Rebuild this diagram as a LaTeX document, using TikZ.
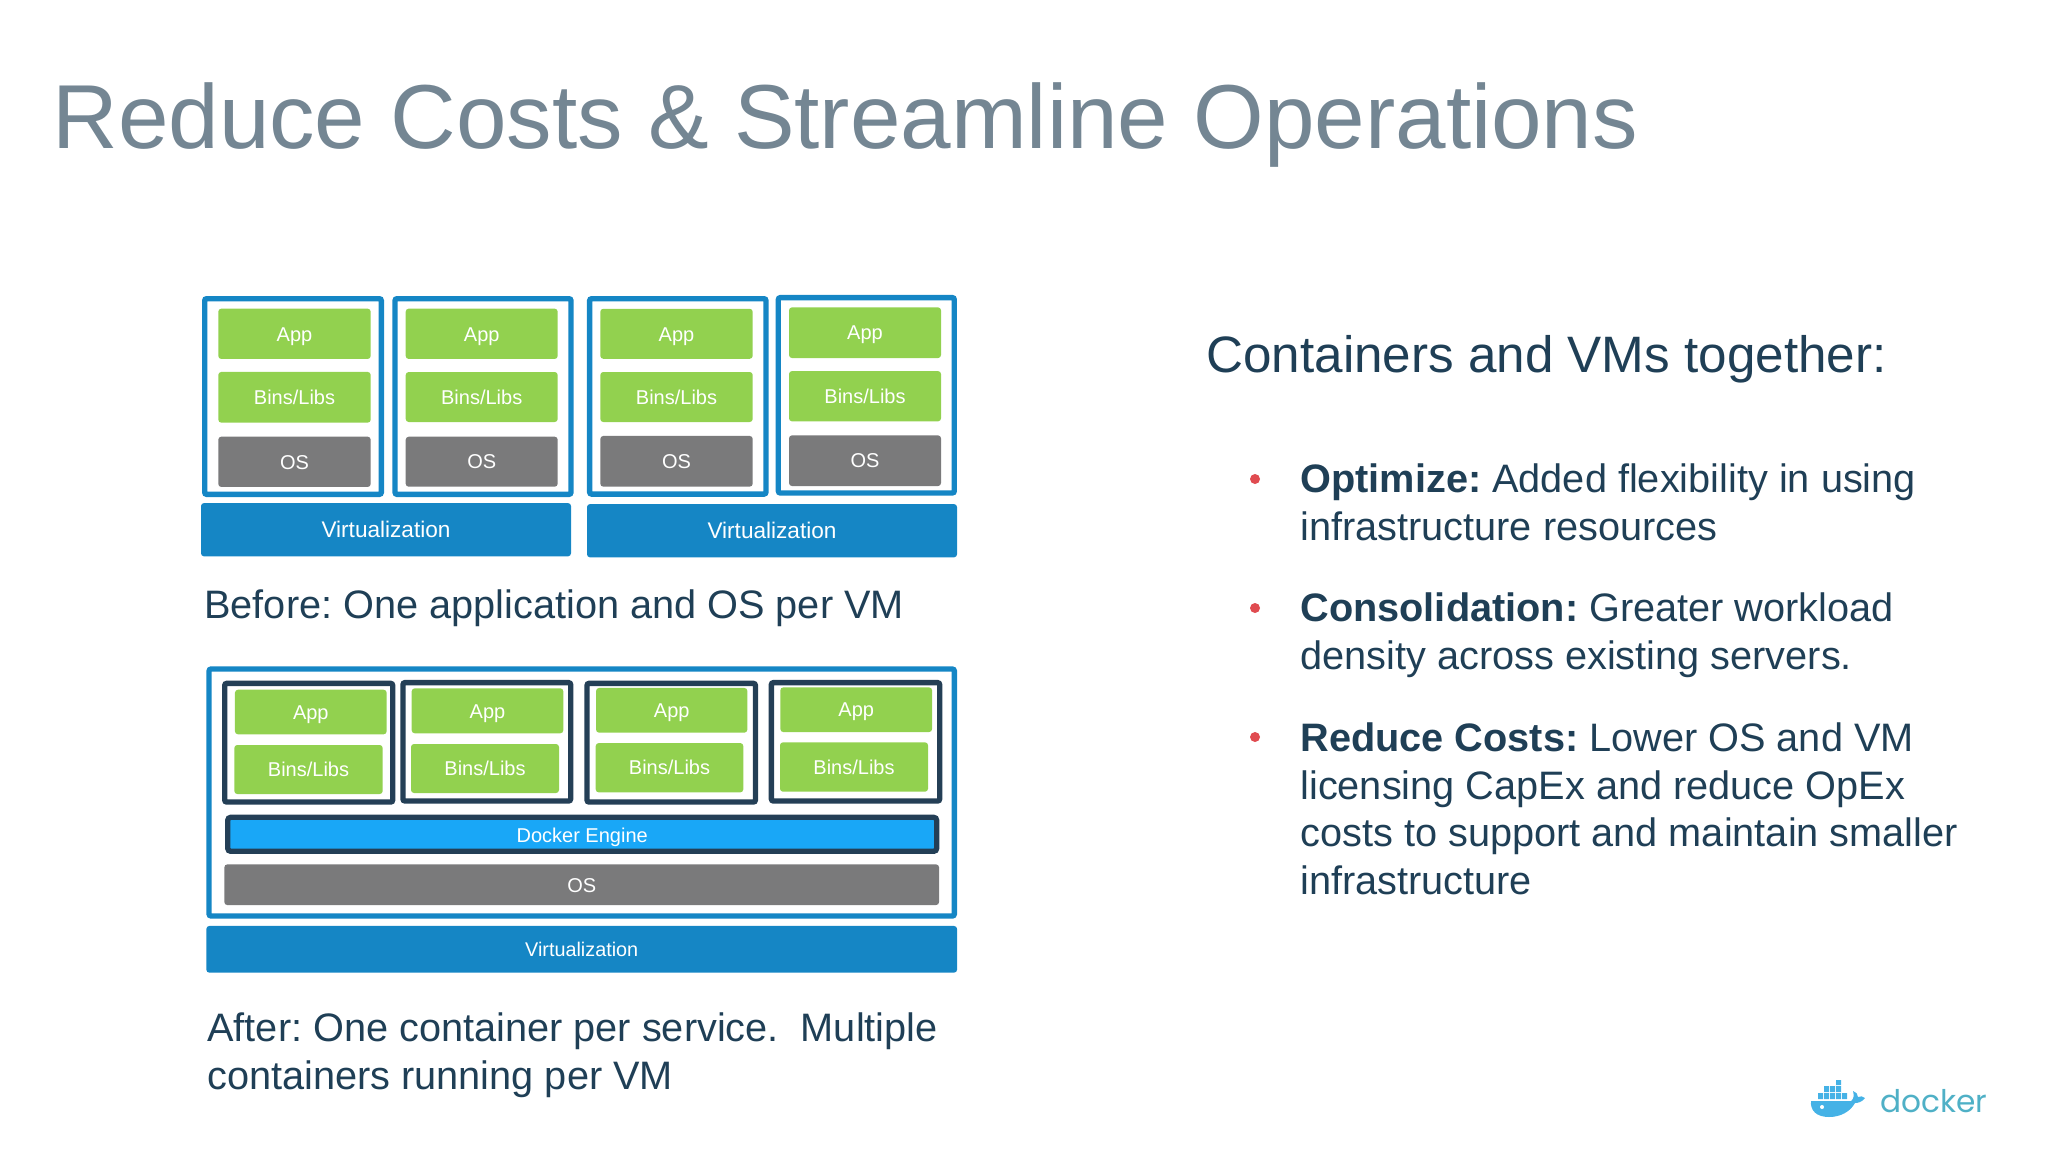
\documentclass[tikz,border=0pt]{standalone}
\usepackage{fontspec}
\setmainfont{Liberation Sans}
\newfontfamily\logofont{Poppins}
\frenchspacing
\definecolor{vmblue}{HTML}{1586C5}
\definecolor{appgreen}{HTML}{92D14F}
\definecolor{osgray}{HTML}{7A7A7B}
\definecolor{darkline}{HTML}{243F56}
\definecolor{enginefill}{HTML}{19A7F7}
\definecolor{titlegray}{HTML}{748693}
\definecolor{bodytext}{HTML}{1F3F56}
\definecolor{bulletred}{HTML}{E04B50}
\definecolor{logoblue}{HTML}{45B2E6}
\definecolor{logoteal}{HTML}{4FB0C6}
\tikzset{
  px/.style 2 args={minimum width=#1*0.5pt,minimum height=#2*0.5pt},
  block/.style={inner sep=0pt,rounded corners=1.5pt,text=white,text height=0.72em,text depth=0pt,font=\fontsize{10pt}{11pt}\selectfont},
  appbox/.style={block,fill=appgreen},
  osbox/.style={block,fill=osgray},
  virtbox/.style={block,fill=vmblue,font=\fontsize{11.3pt}{13pt}\selectfont},
  vmbox/.style={inner sep=0pt,rounded corners=1pt,draw=vmblue,line width=2.65pt},
  ctrbox/.style={inner sep=0pt,rounded corners=1pt,draw=darkline,line width=2.65pt},
  enginebox/.style={block,fill=enginefill,draw=darkline,line width=2.65pt},
  caption/.style={anchor=base west,inner sep=0pt,text=bodytext,font=\fontsize{19.85pt}{24pt}\selectfont},
  dot/.style={circle,inner sep=0pt,minimum size=5pt,fill=bulletred}
}
\begin{document}
\begin{tikzpicture}[x=0.5pt,y=-0.5pt]
    \useasboundingbox (0,0) rectangle (2048,1152);

    \node[anchor=base west,inner sep=0pt,text=titlegray,font=\fontsize{45.43pt}{50pt}\selectfont] (title) at (52,148.5) {Reduce Costs \& Streamline Operations};

    \node[vmbox,px={176.7}{195.7}] (VM1) at (293,396.5) {};
    \node[vmbox,px={176}{195.7}] (VM2) at (483,396.5) {};
    \node[vmbox,px={176.4}{195.4}] (VM3) at (677.8,396.4) {};
    \node[vmbox,px={176}{195.4}] (VM4) at (866.3,395.3) {};

    \node[appbox,px={152.4}{50.3}] (App1) at (294.5,333.8) {App};
    \node[appbox,px={152.4}{50.7}] (Bins1) at (294.5,397.3) {Bins/Libs};
    \node[osbox,px={152.4}{50.3}] (OS1) at (294.5,461.8) {OS};
    \node[appbox,px={152}{50.3}] (App2) at (481.7,333.8) {App};
    \node[appbox,px={152}{50}] (Bins2) at (481.7,397) {Bins/Libs};
    \node[osbox,px={152}{50}] (OS2) at (481.7,461.7) {OS};
    \node[appbox,px={152.4}{50}] (App3) at (676.5,333.8) {App};
    \node[appbox,px={152.4}{50}] (Bins3) at (676.5,397) {Bins/Libs};
    \node[osbox,px={152.4}{50.7}] (OS3) at (676.5,461.3) {OS};
    \node[appbox,px={152}{50.7}] (App4) at (865,332.7) {App};
    \node[appbox,px={152}{50.3}] (Bins4) at (865,396.2) {Bins/Libs};
    \node[osbox,px={152}{50.7}] (OS4) at (865,460.7) {OS};

    \node[virtbox,text height=0.81em,px={370}{53.3}] (Virt1) at (386,529.7) {Virtualization};
    \node[virtbox,text height=0.81em,px={370}{53.3}] (Virt2) at (772,530.7) {Virtualization};

    \node[caption] (before) at (204,618.4) {Before: One application and OS per VM};

    \node[vmbox,px={745.3}{247}] (VM5) at (581.7,792.5) {};

    \node[ctrbox,px={168}{118.7}] (Ctr1) at (308.7,742.7) {};
    \node[ctrbox,px={167.7}{118.4}] (Ctr2) at (486.8,741.8) {};
    \node[ctrbox,px={168.4}{118.7}] (Ctr3) at (671.2,742.7) {};
    \node[ctrbox,px={168.3}{118.4}] (Ctr4) at (855.5,741.8) {};

    \node[appbox,px={151.7}{44.6}] (App5) at (310.8,712) {App};
    \node[appbox,px={148.4}{49}] (Bins5) at (308.5,769.5) {Bins/Libs};
    \node[appbox,px={151.6}{45}] (App6) at (487.5,710.8) {App};
    \node[appbox,px={148}{49}] (Bins6) at (485,768.5) {Bins/Libs};
    \node[appbox,px={151.3}{44.7}] (App7) at (671.7,710.3) {App};
    \node[appbox,px={147.6}{49.3}] (Bins7) at (669.5,767.7) {Bins/Libs};
    \node[appbox,px={151.7}{44.7}] (App8) at (856.2,709.7) {App};
    \node[appbox,px={148}{49.4}] (Bins8) at (854,767) {Bins/Libs};

    \node[enginebox,text height=0.82em,px={709}{34}] (engine) at (582.2,834.3) {Docker Engine};
    \node[osbox,text height=0.82em,px={714.7}{40.7}] (OS5) at (581.7,884.7) {OS};
    \node[virtbox,font=\fontsize{9.9pt}{12pt}\selectfont,px={750.7}{46.7}] (Virt3) at (581.7,949.3) {Virtualization};

    \node[caption] (after1) at (207,1041.3) {After: One container per service.\ \ Multiple};
    \node[caption] (after2) at (207,1089.6) {containers running per VM};

    \node[caption,font=\fontsize{25.6pt}{30pt}\selectfont] (together) at (1206,372) {Containers and VMs together:};

    \node[dot] (dot1) at (1255,479) {};
    \node[caption] (opt1) at (1300,492) {\textbf{Optimize:} Added flexibility in using};
    \node[caption] (opt2) at (1300,540.3) {infrastructure resources};

    \node[dot] (dot2) at (1255,608) {};
    \node[caption] (con1) at (1300,621.3) {\textbf{Consolidation:} Greater workload};
    \node[caption] (con2) at (1300,669.3) {density across existing servers.};

    \node[dot] (dot3) at (1255,737) {};
    \node[caption] (red1) at (1300,751.3) {\textbf{Reduce Costs:} Lower OS and VM};
    \node[caption] (red2) at (1300,799.3) {licensing CapEx and reduce OpEx};
    \node[caption] (red3) at (1300,846.3) {costs to support and maintain smaller};
    \node[caption] (red4) at (1300,894.3) {infrastructure};

    \fill[logoblue] (1811,1101) -- (1851,1101) .. controls (1854,1099) and (1854,1095) .. (1853,1091)
      .. controls (1856,1092) and (1858,1094) .. (1858,1097) .. controls (1860,1096) and (1863,1096) .. (1865,1098)
      .. controls (1862,1102) and (1858,1103) .. (1855,1103) .. controls (1850,1112) and (1840,1117) .. (1829,1117)
      .. controls (1816,1117) and (1810,1110) .. cycle;
    \fill[logoblue] (1818,1093) rectangle ++(5,6) (1824,1093) rectangle ++(5,6) (1830,1093) rectangle ++(5,6)
      (1836,1093) rectangle ++(5,6) (1842,1093) rectangle ++(5,6)
      (1824,1086) rectangle ++(5,6) (1830,1086) rectangle ++(5,6) (1836,1086) rectangle ++(5,6)
      (1836,1080) rectangle ++(5,5);
    \fill[white] (1822,1107) circle (2);
    \node[anchor=base west,inner sep=0pt,text=logoteal,font=\logofont\fontsize{15.6pt}{18pt}\selectfont] (logo) at (1880,1112) {docker};
\end{tikzpicture}
\end{document}
